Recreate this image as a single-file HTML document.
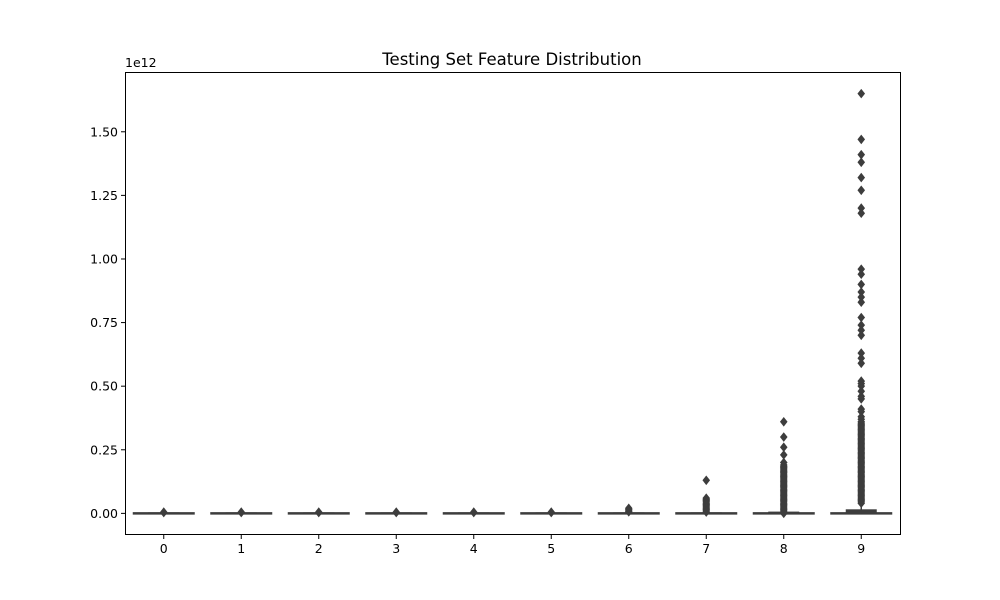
<!DOCTYPE html>
<html><head><meta charset="utf-8"><style>
body{margin:0;background:#fff}
svg{display:block;font-family:"DejaVu Sans","Liberation Sans",sans-serif}
</style></head><body>
<svg id="chart" width="1000" height="600" viewBox="0 0 1000 600">
<rect width="1000" height="600" fill="#fff"/>
<text x="512" y="65" font-size="16.5" text-anchor="middle">Testing Set Feature Distribution</text>
<text x="125" y="67" font-size="12.5">1e12</text>
<g id="marks"></g>
<rect x="125.5" y="72.5" width="775" height="462" fill="none" stroke="#000" stroke-width="1"/>
<g id="axes"></g>
</svg>
<script>
const categories=["0","1","2","3","4","5","6","7","8","9"];
const q3Values=[0.002,0.002,0.002,0.002,0.002,0.002,0.003,0.004,0.007,0.016];
const whiskerHi=[0.004,0.004,0.004,0.004,0.004,0.004,0.006,0.008,0.015,0.035];
const yTicks=[0,0.25,0.5,0.75,1.0,1.25,1.5];
const yTickLabels=["0.00","0.25","0.50","0.75","1.00","1.25","1.50"];
const outliers0=[0.005,0.003];
const outliers1=[0.005,0.003];
const outliers2=[0.005,0.003];
const outliers3=[0.005,0.003];
const outliers4=[0.005,0.003];
const outliers5=[0.005,0.003];
const outliers6=[0.02,0.015,0.01,0.006];
const outliers7=[0.13,0.06,0.055,0.05,0.045,0.04,0.035,0.03,0.025,0.02,0.015,0.01,0.005];
const outliers8=[0.36,0.30,0.26,0.23,0.20,0.19,0.185,0.18,0.175,0.17,0.165,0.16,0.155,0.15,0.145,0.14,0.135,0.13,0.125,0.12,0.115,0.11,0.105,0.10,0.095,0.09,0.085,0.08,0.075,0.07,0.065,0.06,0.055,0.05,0.045,0.04,0.035,0.03,0.025,0.02,0.015,0.01,0.005,0.0];
const outliers9=[1.65,1.47,1.41,1.38,1.32,1.27,1.20,1.18,0.96,0.94,0.90,0.87,0.85,0.83,0.77,0.74,0.72,0.70,0.63,0.61,0.59,0.52,0.51,0.50,0.48,0.46,0.45,0.41,0.40,0.38,0.37,0.36,0.355,0.35,0.345,0.34,0.335,0.33,0.325,0.32,0.315,0.31,0.305,0.30,0.295,0.29,0.285,0.28,0.275,0.27,0.265,0.26,0.255,0.25,0.245,0.24,0.235,0.23,0.225,0.22,0.215,0.21,0.205,0.20,0.195,0.19,0.185,0.18,0.175,0.17,0.165,0.16,0.155,0.15,0.145,0.14,0.135,0.13,0.125,0.12,0.115,0.11,0.105,0.10,0.095,0.09,0.085,0.08,0.075,0.07,0.065,0.06,0.055,0.05,0.045,0.04];
const allOutliers=[outliers0,outliers1,outliers2,outliers3,outliers4,outliers5,outliers6,outliers7,outliers8,outliers9];

const NS="http://www.w3.org/2000/svg";
const x0=125,x1=900,yTop=72,yBot=535;
const yMin=-0.085,yMax=1.735;
function xs(i){return x0+(x1-x0)*(i+0.5)/categories.length;}
function ys(v){return yBot-(v-yMin)/(yMax-yMin)*(yBot-yTop);}
const band=(x1-x0)/categories.length;
const marks=document.getElementById('marks'),axes=document.getElementById('axes');
function mk(tag,attrs,parent){const e=document.createElementNS(NS,tag);for(const k in attrs)e.setAttribute(k,attrs[k]);parent.appendChild(e);return e;}
const col="#3d3d3d";
categories.forEach((c,i)=>{
  const cx=xs(i),w=band*0.8;
  const g=mk('g',{},marks);
  
  
  const y0=ys(0),yq=ys(q3Values[i]),yw=ys(whiskerHi[i]);
  const wl=mk('line',{x1:cx-w/2,x2:cx+w/2,y1:y0,y2:y0,stroke:col,'stroke-width':2.5},g);
  
  
  const bx=mk('rect',{x:cx-w/4,y:Math.min(yq,y0-1),width:w/2,height:Math.max(y0-yq,1)+1,fill:col},g);
  
  
  const wh=mk('line',{x1:cx,x2:cx,y1:y0,y2:yw,stroke:col,'stroke-width':1.5},g);
  
  
  allOutliers[i].forEach(v=>{
    const y=ys(v);
    const p=mk('path',{d:`M${cx} ${y-4.8}L${cx+3.8} ${y}L${cx} ${y+4.8}L${cx-3.8} ${y}Z`,fill:col},g);
    
    
  });
  const t=mk('line',{x1:cx,x2:cx,y1:yBot,y2:yBot+4,stroke:'#000'},axes);
  
  
  const tl=mk('text',{x:cx,y:yBot+18,'font-size':12.5,'text-anchor':'middle'},axes);
  tl.textContent=c;
  
  
});
yTicks.forEach((v,i)=>{
  const y=ys(v);
  const t=mk('line',{x1:x0-4,x2:x0,y1:y,y2:y,stroke:'#000'},axes);
  
  
  const tl=mk('text',{x:x0-7,y:y+4.5,'font-size':12.5,'text-anchor':'end'},axes);
  tl.textContent=yTickLabels[i];
  
  
});
</script>
</body></html>
